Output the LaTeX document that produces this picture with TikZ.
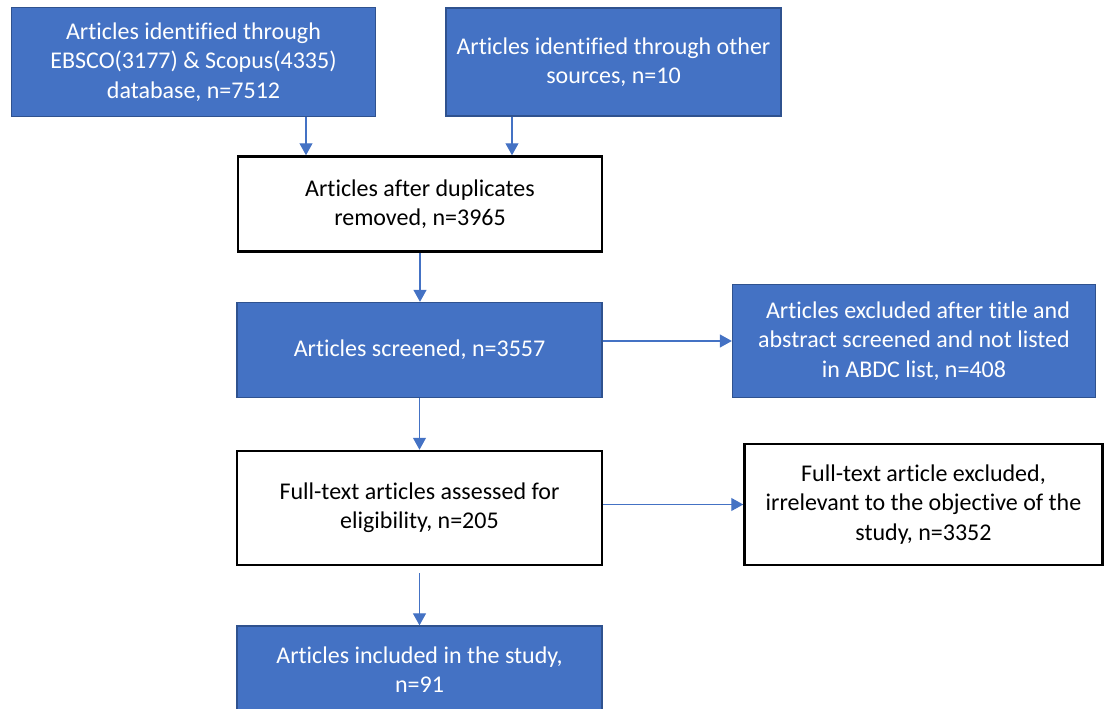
\documentclass[tikz,border=0pt]{standalone}
\usepackage{fontspec}
\setmainfont{Carlito}[Ligatures=NoCommon]
\usetikzlibrary{arrows.meta}
\definecolor{boxblue}{HTML}{4472C4}
\definecolor{edgeblue}{HTML}{2F528F}

\begin{document}
\begin{tikzpicture}[x=1pt,y=-1pt,
  bluebox/.style={draw=edgeblue,line width=1.3pt,fill=boxblue,text=white,align=center,inner sep=0pt,font=\fontsize{24}{29.3}\selectfont},
  whitebox/.style={draw=black,line width=2.5pt,fill=white,align=center,inner sep=0pt,font=\fontsize{24}{29.3}\selectfont},
  flow/.style={draw=boxblue,line width=1.2pt,-{Triangle[length=12pt,width=13pt]}}]
  \useasboundingbox (0,0) rectangle (1104,709);
  \node[bluebox,minimum width=364,minimum height=109] (ebsco) at (193.5,62) {Articles identified through\\EBSCO(3177) \& Scopus(4335)\\database, n=7512};
  \node[bluebox,minimum width=335,minimum height=108] (other) at (613.5,62) {Articles identified through other\\sources, n=10};
  \node[whitebox,minimum width=364,minimum height=95] (dupes) at (420,204) {Articles after duplicates\\removed, n=3965};
  \node[bluebox,minimum width=365,minimum height=95] (screened) at (419.5,350) {Articles screened, n=3557};
  \node[bluebox,minimum width=363,minimum height=113] (excltitle) at (914,341) {\hspace*{8pt}Articles excluded after title and\\abstract screened and not listed\\in ABDC list, n=408};
  \node[whitebox,minimum width=365,minimum height=114] (fulltext) at (419.5,508) {Full-text articles assessed for\\eligibility, n=205};
  \node[whitebox,minimum width=358,minimum height=121] (exclfull) at (923.5,504.5) {Full-text article excluded,\\irrelevant to the objective of the\\study, n=3352};
  \node[bluebox,minimum width=365,minimum height=88] (included) at (419.5,670) {Articles included in the study,\\n=91};
  \draw[flow] ([xshift=112.5pt]ebsco.south) -- ([xshift=112.5pt]ebsco.south |- dupes.north);
  \draw[flow] ([xshift=-101.5pt]other.south) -- ([xshift=-101.5pt]other.south |- dupes.north);
  \draw[flow] (dupes.south) -- (dupes.south |- screened.north);
  \draw[flow] (screened.south) -- (fulltext.north);
  \draw[flow] (screened.east |- excltitle.west) -- (excltitle.west);
  \draw[flow] (fulltext.east |- exclfull.west) -- (exclfull.west);
  \draw[flow] ([yshift=-7pt]fulltext.south) -- (included.north);
\end{tikzpicture}
\end{document}
